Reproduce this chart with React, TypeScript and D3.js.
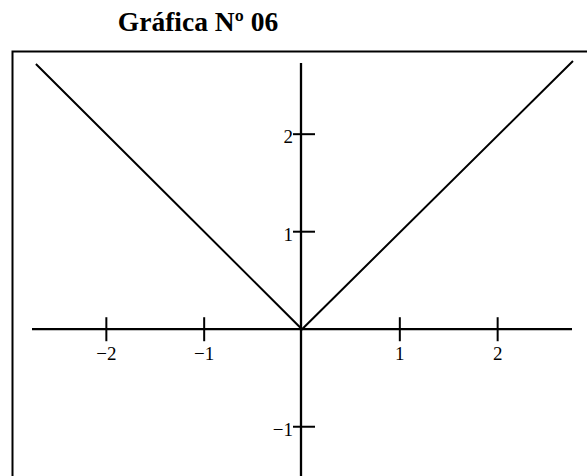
import React from "react";
import * as d3 from "d3";

const title = "Gráfica Nº 06";
const curveX = [-2.72, 0, 2.77];
const curveY = [2.72, 0, 2.75];
const xTicks = [-2, -1, 1, 2];
const yTicks = [2, 1, -1];
const fmt = (v: number) => (v < 0 ? "\u2212" + Math.abs(v) : String(v));

export default function App() {
  const W = 587, H = 476;
  const x = d3.scaleLinear().domain([-2.76, 2.76]).range([32, 572]);
  const y = d3.scaleLinear().domain([2.73, -1.5]).range([63, 475.5]);
  const pts = curveX.map((v, i) => [v, curveY[i]] as [number, number]);
  const line = d3.line<[number, number]>().x(d => x(d[0])).y(d => y(d[1]));
  const x0 = x(0) - 1, y0 = y(0);
  const font = "'Liberation Serif', 'Times New Roman', serif";
  return (
    <svg width={W} height={H} style={{ position: "absolute", left: 0, top: 0, background: "#fff" }}>
      <rect x={0} y={0} width={W} height={H} fill="#fff" />
      <text x={198} y={31} textAnchor="middle" fontFamily={font} fontWeight="bold" fontSize={27.5}>{title}</text>
      {/* frame */}
      <path d={`M12.5,${H + 5} L12.5,51.5 L${W + 5},51.5`} fill="none" stroke="#000" strokeWidth={2} />
      {/* axes */}
      <line x1={x(-2.76)} x2={x(2.76)} y1={y0} y2={y0} stroke="#000" strokeWidth={2.3} />
      <line x1={x0} x2={x0} y1={y(2.73)} y2={H} stroke="#000" strokeWidth={2.3} />
      {xTicks.map(t => (
        <g key={"x" + t}>
          <line x1={x(t)} x2={x(t)} y1={y0 - 12} y2={y0 + 12} stroke="#000" strokeWidth={2} />
          <text x={x(t)} y={y0 + 31} textAnchor="middle" fontFamily={font} fontSize={19}>{fmt(t)}</text>
        </g>
      ))}
      {yTicks.map(t => (
        <g key={"y" + t}>
          <line x1={x0 - 8} x2={x0 + 14} y1={y(t)} y2={y(t)} stroke="#000" strokeWidth={2} />
          <text x={x0 - 8} y={y(t) + 9} textAnchor="end" fontFamily={font} fontSize={19}>{fmt(t)}</text>
        </g>
      ))}
      <path d={line(pts) || ""} fill="none" stroke="#000" strokeWidth={2} />
    </svg>
  );
}
